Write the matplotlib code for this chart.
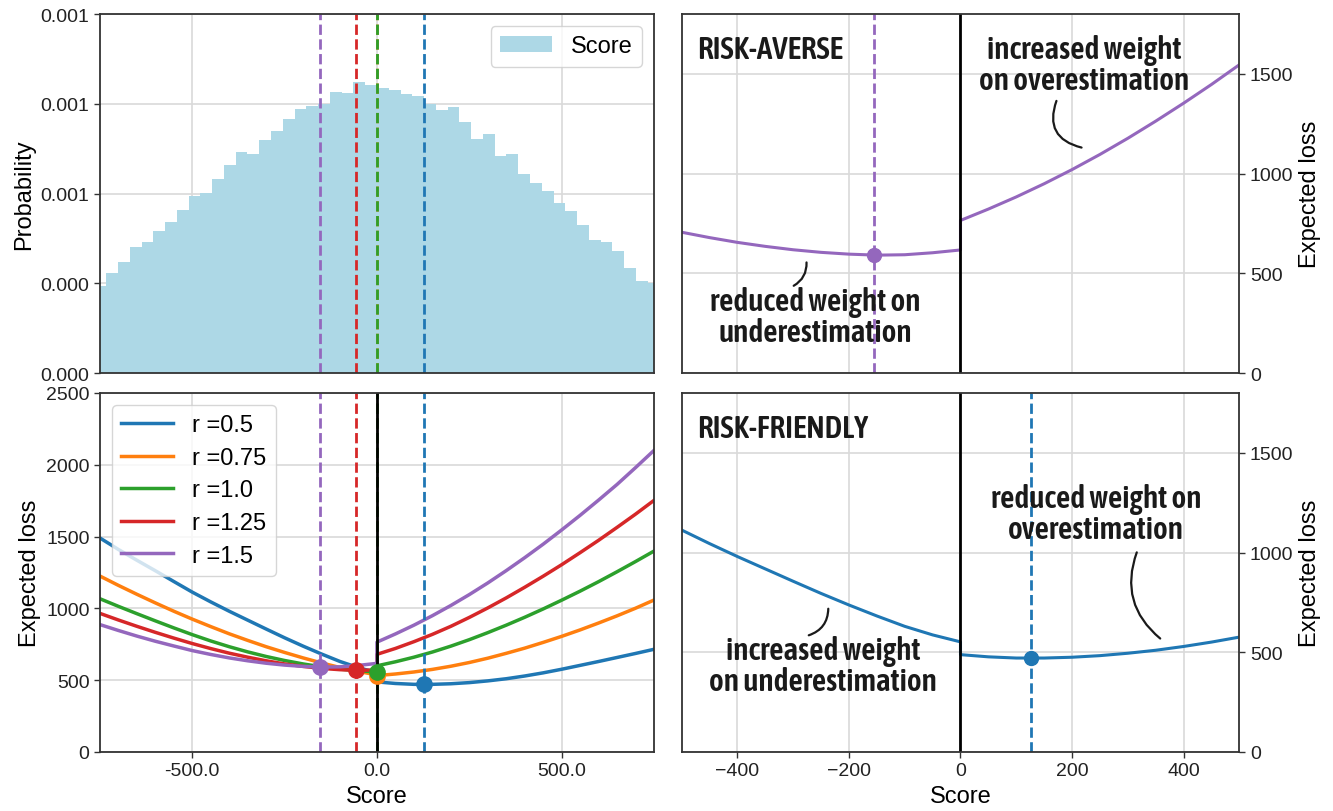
import numpy as np
import matplotlib
matplotlib.use("Agg")
import matplotlib.pyplot as plt
from matplotlib import font_manager
from matplotlib.font_manager import FontProperties
from matplotlib.ticker import FormatStrFormatter

plt.rcParams['font.family'] = ['Liberation Sans', 'DejaVu Sans']

# histogram of scores (density), 48 bins from -765 to 765
hist_edges = np.linspace(-765, 765, 49)
hist_density = [0.000290, 0.000334, 0.000371, 0.000421, 0.000437, 0.000474,
                0.000505, 0.000545, 0.000591, 0.000601, 0.000648, 0.000696,
                0.000740, 0.000731, 0.000778, 0.000809, 0.000849, 0.000882,
                0.000894, 0.000898, 0.000939, 0.000935, 0.000972, 0.000964,
                0.000952, 0.000946, 0.000933, 0.000925, 0.000900, 0.000879,
                0.000889, 0.000840, 0.000783, 0.000800, 0.000724, 0.000732,
                0.000664, 0.000635, 0.000607, 0.000569, 0.000540, 0.000496,
                0.000445, 0.000437, 0.000407, 0.000351, 0.000308, 0.000300]

# expected loss curves, left branch (-750..0) and right branch (0..750)
x_left = [-750, -700, -650, -600, -550, -500, -450, -400, -350, -300,
          -250, -200, -150, -100, -50, 0]
x_right = [0, 50, 100, 150, 200, 250, 300, 350, 400, 450,
           500, 550, 600, 650, 700, 750]

r_values = [0.5, 0.75, 1.0, 1.25, 1.5]
colors = ['#1f77b4', '#ff7f0e', '#2ca02c', '#d62728', '#9467bd']

loss_left = [
    [1490, 1410, 1335, 1262, 1187, 1113, 1045, 980, 918, 856, 795, 737, 682, 630, 587, 552],
    [1225, 1160, 1098, 1038, 980, 925, 873, 823, 777, 733, 693, 655, 620, 588, 560, 537],
    [1067, 1014, 963, 913, 864, 817, 773, 733, 697, 665, 637, 613, 593, 577, 565, 558],
    [965, 919, 875, 833, 793, 755, 720, 688, 660, 635, 613, 596, 582, 573, 568, 572],
    [887, 846, 807, 771, 738, 706, 679, 655, 635, 618, 605, 596, 591, 593, 603, 617],
]
loss_right = [
    [488, 477, 471, 471, 475, 483, 495, 510, 529, 551, 576, 603, 630, 658, 686, 715],
    [532, 543, 557, 575, 597, 623, 653, 687, 723, 763, 805, 850, 898, 948, 1001, 1058],
    [600, 628, 660, 696, 737, 782, 831, 883, 938, 996, 1057, 1120, 1186, 1255, 1326, 1399],
    [680, 721, 768, 819, 875, 937, 1003, 1073, 1147, 1224, 1304, 1388, 1474, 1564, 1656, 1752],
    [765, 822, 883, 949, 1020, 1096, 1177, 1263, 1353, 1447, 1546, 1648, 1754, 1863, 1980, 2100],
]

# optimal score and loss for each r
opt_x = [126, 0, 0, -58, -155]
opt_y = [470, 532, 558, 568, 591]


# annotation font: look for a condensed / narrow semibold sans
def pick_condensed():
    best = None
    for f in font_manager.fontManager.ttflist:
        nm = f.name.lower()
        narrow = ('narrow' in nm or 'condensed' in nm
                  or str(f.stretch) in ('condensed', 'semi-condensed',
                                        'extra-condensed', '75', '87.5', 62))
        if not narrow or 'mono' in nm or 'serif' in nm and 'sans' not in nm:
            continue
        w = f.weight if isinstance(f.weight, int) else {'bold': 700, 'semibold': 600,
                                                         'demibold': 600, 'normal': 400,
                                                         'regular': 400, 'medium': 500
                                                         }.get(str(f.weight).lower(), 400)
        score = abs(w - 620) + (0 if 'extra' not in str(f.stretch) and 'extra' not in nm else 150)
        if best is None or score < best[0]:
            best = (score, f.fname)
    return best[1] if best else None


cond = pick_condensed()
if cond:
    ann_prop = dict(fontproperties=FontProperties(fname=cond, size=22.5))
else:
    ann_prop = dict(family=['Lato', 'DejaVu Sans'], fontweight='bold', fontsize=19)

spine_col = '#333333'
grid_col = '#d9d9d9'
tick_fs = 14
label_fs = 17


def style(ax, right=False):
    ax.grid(True, color=grid_col, lw=1.2)
    ax.set_axisbelow(True)
    for s in ax.spines.values():
        s.set_color(spine_col)
        s.set_linewidth(1.3)
    ax.tick_params(labelsize=tick_fs, length=4, width=1, color=spine_col,
                   labelcolor='#222222')
    if right:
        ax.yaxis.tick_right()
        ax.yaxis.set_label_position('right')


fig = plt.figure(figsize=(13.33, 8.12), dpi=100)
ax_hist = fig.add_axes([0.075, 0.5394, 0.4156, 0.4421])
ax_loss = fig.add_axes([0.075, 0.0727, 0.4156, 0.4421], sharex=ax_hist)
ax_avr = fig.add_axes([0.5113, 0.5394, 0.4185, 0.4421])
ax_fr = fig.add_axes([0.5113, 0.0727, 0.4185, 0.4421], sharex=ax_avr)

# --- top left: score histogram
style(ax_hist)
ax_hist.stairs(hist_density, hist_edges, fill=True, color='lightblue', label='Score')
for c, xo in zip(colors, opt_x):
    ax_hist.axvline(xo, color=c, ls='--', lw=2)
ax_hist.set_ylim(0, 0.0012)
ax_hist.set_yticks([0, 0.0003, 0.0006, 0.0009, 0.0012])
ax_hist.yaxis.set_major_formatter(FormatStrFormatter('%.3f'))
ax_hist.set_ylabel('Probability', fontsize=label_fs)
ax_hist.tick_params(axis='x', labelbottom=False, length=0)
ax_hist.legend(loc='upper right', fontsize=label_fs, handlelength=2.2)

# --- bottom left: expected loss for all r
style(ax_loss)
for r, c, yl, yr in zip(r_values, colors, loss_left, loss_right):
    ax_loss.plot(x_left + x_right, yl + yr, color=c, lw=2.5, label='r =' + str(r))
for c, xo in zip(colors, opt_x):
    ax_loss.axvline(xo, color=c, ls='--', lw=2)
ax_loss.axvline(0, color='black', lw=2)
for c, xo, yo in zip(colors, opt_x, opt_y):
    ax_loss.plot(xo, yo, 'o', color=c, ms=11, zorder=5)
ax_loss.set_xlim(-750, 750)
ax_loss.set_ylim(0, 2500)
ax_loss.set_xticks([-500, 0, 500])
ax_loss.xaxis.set_major_formatter(FormatStrFormatter('%.1f'))
ax_loss.set_xlabel('Score', fontsize=label_fs)
ax_loss.set_ylabel('Expected loss', fontsize=label_fs)
ax_loss.legend(loc='upper left', fontsize=label_fs, handlelength=2.2,
               labelspacing=0.45)


def single(ax, idx, title, top_txt, top_xy, bot_txt, bot_xy, arcs, show_x):
    style(ax, right=True)
    c = colors[idx]
    ax.plot(x_left + x_right, loss_left[idx] + loss_right[idx], color=c, lw=2.2)
    ax.axvline(opt_x[idx], color=c, ls='--', lw=2)
    ax.axvline(0, color='black', lw=2)
    ax.plot(opt_x[idx], opt_y[idx], 'o', color=c, ms=10, zorder=5)
    ax.set_xlim(-500, 500)
    ax.set_ylim(0, 1800)
    ax.set_xticks([-400, -200, 0, 200, 400])
    ax.set_yticks([0, 500, 1000, 1500])
    ax.set_ylabel('Expected loss', fontsize=label_fs)
    ax.tick_params(labelbottom=show_x)
    if show_x:
        ax.set_xlabel('Score', fontsize=label_fs)
    else:
        ax.tick_params(axis='x', length=0)
    ax.text(0.028, 0.902, title, transform=ax.transAxes, ha='left', va='center',
            color='#1a1a1a', **ann_prop)
    ax.text(top_xy[0], top_xy[1], top_txt, transform=ax.transAxes, ha='center',
            va='center', color='#1a1a1a', linespacing=1.0, **ann_prop)
    ax.text(bot_xy[0], bot_xy[1], bot_txt, transform=ax.transAxes, ha='center',
            va='center', color='#1a1a1a', linespacing=1.0, **ann_prop)
    for start, end, rad in arcs:
        ax.annotate('', xy=end, xytext=start, xycoords='axes fraction',
                    textcoords='axes fraction',
                    arrowprops=dict(arrowstyle='-', color='#1a1a1a', lw=1.6,
                                    shrinkA=0, shrinkB=0,
                                    connectionstyle='arc3,rad=%s' % rad))


single(ax_avr, 4, 'RISK-AVERSE',
       'increased weight\non overestimation', (0.721, 0.857),
       'reduced weight on\nunderestimation', (0.239, 0.157),
       [((0.672, 0.758), (0.717, 0.628), 0.55),
        ((0.224, 0.308), (0.201, 0.243), -0.3)],
       show_x=False)
single(ax_fr, 0, 'RISK-FRIENDLY',
       'reduced weight on\noverestimation', (0.743, 0.662),
       'increased weight\non underestimation', (0.2535, 0.239),
       [((0.816, 0.556), (0.858, 0.316), 0.35),
        ((0.263, 0.399), (0.228, 0.325), -0.35)],
       show_x=True)

fig.savefig('out.png', dpi=100)
